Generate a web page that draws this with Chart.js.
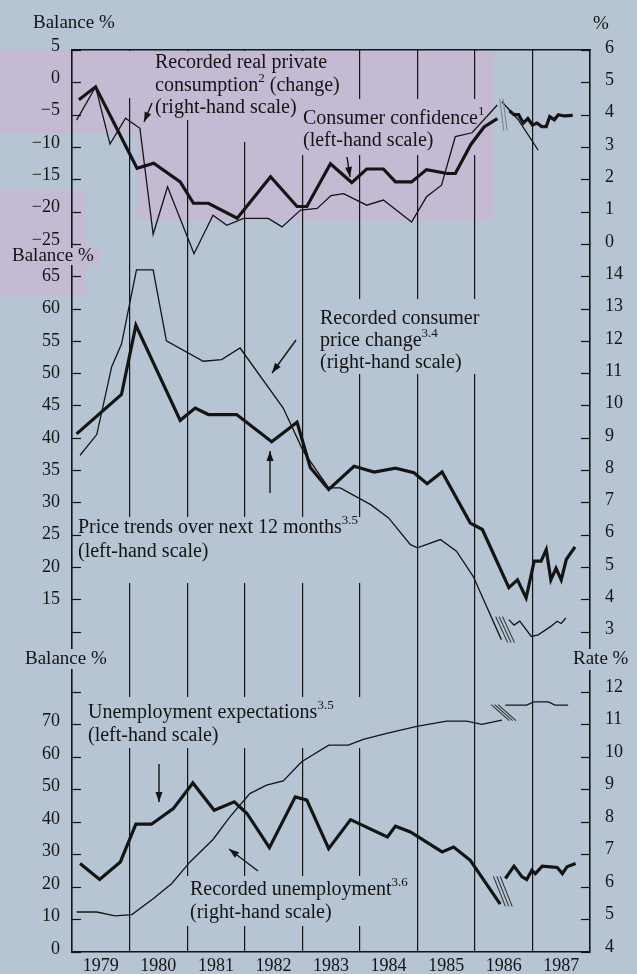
<!DOCTYPE html>
<html>
<head>
<meta charset="utf-8">
<script src="https://cdn.jsdelivr.net/npm/chart.js@4.4.1/dist/chart.umd.min.js"></script>
<style>
  html, body { margin: 0; padding: 0; background: #b7c4d3; }
  #wrap { width: 637px; height: 974px; }
</style>
</head>
<body>
<div id="wrap"><canvas id="chart" width="637" height="974"></canvas></div>
<script>
// x axis: year boundaries (labels sit in the middle of each year)
const years = [1979, 1980, 1981, 1982, 1983, 1984, 1985, 1986, 1987, 1988];

// tick values of each panel
const topLeftTicks = [5, 0, -5, -10, -15, -20, -25];
const topRightTicks = [0, 1, 2, 3, 4, 5, 6];
const midLeftTicks = [10, 15, 20, 25, 30, 35, 40, 45, 50, 55, 60, 65];
const midRightTicks = [3, 4, 5, 6, 7, 8, 9, 10, 11, 12, 13, 14];
const lowLeftTicks = [0, 10, 20, 30, 40, 50, 60, 70, 80];
const lowRightTicks = [4, 5, 6, 7, 8, 9, 10, 11, 12];

// top panel: consumer confidence, balance % (left scale)
const confDates = [1979.12, 1979.41, 1980.13, 1980.42, 1980.88, 1981.11, 1981.37, 1981.87, 1982.45, 1982.91, 1983.08, 1983.49, 1983.86, 1984.12, 1984.41, 1984.62, 1984.90, 1985.16, 1985.52, 1985.66, 1985.93, 1986.16, 1986.39];
const confValues = [-2.7, -0.7, -13.3, -12.5, -15.4, -18.7, -18.7, -21.0, -14.6, -19.2, -19.2, -12.6, -15.5, -13.4, -13.4, -15.4, -15.4, -13.5, -14.1, -14.1, -9.6, -6.9, -5.6];
const confDates2 = [1986.60, 1986.68, 1986.76, 1986.84, 1986.92, 1987.00, 1987.08, 1987.16, 1987.24, 1987.30, 1987.38, 1987.45, 1987.55, 1987.70];
const confValues2 = [-4.4, -5.0, -5.0, -6.3, -5.6, -6.6, -6.3, -6.85, -6.85, -5.3, -5.8, -5.0, -5.2, -5.1];

// top panel: recorded real private consumption, change % (right scale)
const consDates = [1979.08, 1979.41, 1979.66, 1979.93, 1980.18, 1980.41, 1980.66, 1981.12, 1981.45, 1981.69, 1981.98, 1982.41, 1982.65, 1982.97, 1983.26, 1983.50, 1983.72, 1984.12, 1984.41, 1984.90, 1985.16, 1985.42, 1985.66, 1985.95, 1986.39];
const consValues = [3.83, 4.86, 3.09, 3.89, 3.58, 0.3, 1.77, -0.3, 0.89, 0.58, 0.79, 0.79, 0.53, 1.05, 1.1, 1.5, 1.56, 1.2, 1.36, 0.68, 1.46, 1.82, 3.32, 3.44, 4.3];
const consDates2 = [1986.47, 1986.75, 1987.10];
const consValues2 = [4.4, 3.85, 2.9];

// middle panel: price trends over next 12 months, balance % (left scale)
const trendDates = [1979.08, 1979.86, 1980.11, 1980.88, 1981.14, 1981.37, 1981.86, 1982.47, 1982.91, 1983.14, 1983.46, 1983.90, 1984.25, 1984.62, 1984.94, 1985.17, 1985.43, 1985.92, 1986.13, 1986.35, 1986.59, 1986.74, 1986.89, 1987.03, 1987.15, 1987.24, 1987.32, 1987.41, 1987.50, 1987.59, 1987.74];
const trendValues = [40.6, 46.7, 57.4, 42.7, 44.6, 43.6, 43.6, 39.4, 42.4, 35.4, 32.0, 35.6, 34.7, 35.3, 34.6, 32.9, 34.7, 26.8, 25.8, 21.5, 16.8, 18.0, 15.2, 20.9, 20.9, 22.7, 18.0, 19.8, 18.0, 21.2, 23.1];

// middle panel: recorded consumer price change, % (right scale)
const cpiDates = [1979.14, 1979.43, 1979.69, 1979.86, 1980.12, 1980.41, 1980.64, 1981.28, 1981.60, 1981.92, 1982.67, 1983.02, 1983.46, 1983.66, 1984.19, 1984.50, 1984.88, 1985.00, 1985.40, 1985.68, 1985.97, 1986.46];
const cpiValues = [8.46, 9.1, 11.2, 11.9, 14.2, 14.2, 12.0, 11.37, 11.42, 11.78, 9.92, 8.58, 7.45, 7.45, 6.93, 6.52, 5.69, 5.59, 5.85, 5.49, 4.71, 2.75];
const cpiDates2 = [1986.59, 1986.68, 1986.78, 1986.98, 1987.10, 1987.32, 1987.43, 1987.50, 1987.58];
const cpiValues2 = [3.37, 3.2, 3.32, 2.85, 2.9, 3.16, 3.32, 3.25, 3.42];

// bottom panel: unemployment expectations, balance % (left scale)
const uexpDates = [1979.14, 1979.48, 1979.84, 1980.11, 1980.38, 1980.76, 1981.10, 1981.47, 1981.82, 1982.04, 1982.43, 1982.88, 1983.08, 1983.46, 1983.84, 1984.48, 1984.62, 1984.88, 1985.43, 1985.63, 1985.92, 1986.44];
const uexpValues = [27.2, 22.3, 27.7, 39.3, 39.3, 44.1, 52.0, 43.6, 46.2, 42.6, 32.1, 47.7, 46.7, 31.8, 40.7, 35.4, 38.7, 36.9, 30.8, 32.3, 28.2, 14.7];
const uexpDates2 = [1986.53, 1986.68, 1986.82, 1986.90, 1986.99, 1987.05, 1987.17, 1987.32, 1987.43, 1987.52, 1987.60, 1987.75];
const uexpValues2 = [22.6, 26.4, 23.1, 22.3, 25.1, 24.1, 26.4, 26.2, 26.0, 24.1, 26.2, 27.2];

// bottom panel: recorded unemployment, rate % (right scale)
const unempDates = [1979.08, 1979.43, 1979.75, 1980.04, 1980.41, 1980.73, 1981.05, 1981.45, 1981.74, 1982.09, 1982.38, 1982.67, 1982.99, 1983.46, 1983.80, 1984.06, 1984.47, 1984.99, 1985.51, 1985.86, 1986.12, 1986.47];
const unempValues = [5.23, 5.23, 5.11, 5.15, 5.64, 6.1, 6.77, 7.46, 8.15, 8.87, 9.13, 9.26, 9.85, 10.36, 10.36, 10.54, 10.72, 10.94, 11.1, 11.1, 11.0, 11.13];
const unempDates2 = [1986.53, 1986.90, 1987.02, 1987.28, 1987.39, 1987.62];
const unempValues2 = [11.59, 11.59, 11.69, 11.69, 11.59, 11.59];

const serif = '"Liberation Serif", "Times New Roman", serif';
const ink = '#141414';
const bg = '#b7c4d3';
const pink = '#c4bad3';

// lavender patches of the printed original
const pinkAreas = [[0, 50, 137, 83], [137, 50, 356, 170], [0, 190, 86, 105]];

// annotations: text lines, and background patches that break the year lines
const notes = [
  { x: 155, y: 63, lh: 22.5, lines: ['Recorded real private', 'consumption^2^ (change)', '(right-hand scale)'],
    masks: [[124, 51, 222, 47, pink], [180, 98, 130, 22, pink], [240, 120, 70, 22, pink]] },
  { x: 303, y: 119, lh: 22, lines: ['Consumer confidence^1^', '(left-hand scale)'],
    masks: [[298, 99, 186, 56, pink]] },
  { x: 320, y: 319, lh: 22, lines: ['Recorded consumer', 'price change^3.4^', '(right-hand scale)'],
    masks: [[318, 299, 166, 75, bg]] },
  { x: 78, y: 528, lh: 23.5, lines: ['Price trends over next 12 months^3.5^', '(left-hand scale)'],
    masks: [[76, 517, 296, 66, bg]] },
  { x: 88, y: 713, lh: 23, lines: ['Unemployment expectations^3.5^', '(left-hand scale)'],
    masks: [[86, 697, 278, 51, bg]] },
  { x: 190, y: 890, lh: 23, lines: ['Recorded unemployment^3.6^', '(right-hand scale)'],
    masks: [[187, 876, 228, 50, bg]] }
];
const arrows = [[152, 103, 144, 122], [347, 157, 350, 177], [296, 340, 272, 373], [270, 493, 270, 451], [159, 764, 159, 802], [258, 871, 229, 849]];
const titles = [
  { t: 'Balance %', x: 33, y: 23 },
  { t: '%', x: 593, y: 24 },
  { t: 'Balance %', x: 12, y: 256, mask: [10, 248, 90, 17, pink] },
  { t: 'Balance %', x: 25, y: 659, mask: [23, 649, 90, 20, bg] },
  { t: 'Rate %', x: 573, y: 659, mask: [571, 649, 66, 21, bg] }
];
// series breaks: dataset before / after, number of strokes, half size, colour
const breakMarks = [
  { pre: 0, post: 1, n: 2, hx: 2, hy: 16, color: '#7d8590' },
  { pre: 5, post: 6, n: 3, hx: 6, hy: 13, color: '#333' },
  { pre: 7, post: 8, n: 3, hx: 6, hy: 15, color: '#333' },
  { pre: 9, post: 10, n: 3, hx: 9, hy: 8, color: '#333' }
];

function pts(dates, values) {
  return dates.map((d, i) => ({ x: d, y: values[i] }));
}

function line(dates, values, axis, width) {
  return {
    data: pts(dates, values), yAxisID: axis, xAxisID: 'x', clip: false,
    borderColor: ink, borderWidth: width, pointRadius: 0, fill: false, tension: 0
  };
}

function fmt(v, blank) {
  if (blank.includes(v)) return '';
  return v < 0 ? '\u2212' + Math.abs(v) : String(v);
}

function yAxis(pos, min, max, ticks, weight, offset, blank) {
  return {
    type: 'linear', position: pos, stack: pos, stackWeight: weight, min: min, max: max,
    grid: { display: false },
    border: { color: ink, width: 1.5 },
    afterBuildTicks: s => { s.ticks = ticks.map(v => ({ value: v })); },
    afterFit: s => { s.width = pos === 'left' ? 72 : 47; },
    ticks: {
      autoSkip: false, padding: pos === 'left' ? 4 : 7, labelOffset: offset, color: ink,
      font: { family: serif, size: 18 },
      callback: v => fmt(v, blank || [])
    }
  };
}

function richText(ctx, str, x, y) {
  let cx = x;
  str.split('^').forEach((p, i) => {
    const sup = i % 2 === 1;
    ctx.font = (sup ? '13px ' : '20px ') + serif;
    ctx.fillText(p, cx, sup ? y - 7 : y);
    cx += ctx.measureText(p).width;
  });
}

function arrow(ctx, x1, y1, x2, y2) {
  ctx.beginPath();
  ctx.moveTo(x1, y1);
  ctx.lineTo(x2, y2);
  ctx.stroke();
  const a = Math.atan2(y2 - y1, x2 - x1), L = 10, W = 3.5;
  ctx.beginPath();
  ctx.moveTo(x2, y2);
  ctx.lineTo(x2 - L * Math.cos(a) + W * Math.sin(a), y2 - L * Math.sin(a) - W * Math.cos(a));
  ctx.lineTo(x2 - L * Math.cos(a) - W * Math.sin(a), y2 - L * Math.sin(a) + W * Math.cos(a));
  ctx.closePath();
  ctx.fill();
}

const deco = {
  id: 'deco',
  beforeDraw(chart) {
    const ctx = chart.ctx;
    ctx.save();
    ctx.fillStyle = bg;
    ctx.fillRect(0, 0, chart.width, chart.height);
    ctx.fillStyle = pink;
    pinkAreas.forEach(r => ctx.fillRect(r[0], r[1], r[2], r[3]));
    ctx.restore();
  },
  beforeDatasetsDraw(chart) {
    const ctx = chart.ctx;
    ctx.save();
    const masks = [];
    notes.forEach(n => n.masks.forEach(m => masks.push(m)));
    titles.forEach(t => { if (t.mask) masks.push(t.mask); });
    masks.forEach(m => { ctx.fillStyle = m[4]; ctx.fillRect(m[0], m[1], m[2], m[3]); });
    ctx.fillStyle = ink;
    ctx.textAlign = 'left';
    ctx.textBaseline = 'middle';
    notes.forEach(n => n.lines.forEach((l, i) => richText(ctx, l, n.x, n.y + i * n.lh)));
    ctx.font = '19px ' + serif;
    titles.forEach(t => ctx.fillText(t.t, t.x, t.y));
    ctx.restore();
  },
  afterDatasetsDraw(chart) {
    const ctx = chart.ctx, area = chart.chartArea;
    ctx.save();
    // tick marks pointing into the plot
    ctx.strokeStyle = ink;
    ctx.lineWidth = 1.2;
    Object.values(chart.scales).forEach(s => {
      if (s.axis !== 'y') return;
      s.ticks.forEach(t => {
        const py = Math.round(s.getPixelForValue(t.value)) + 0.5;
        ctx.beginPath();
        if (s.position === 'left') { ctx.moveTo(area.left, py); ctx.lineTo(area.left + 9, py); }
        else { ctx.moveTo(area.right - 9, py); ctx.lineTo(area.right, py); }
        ctx.stroke();
      });
    });
    // annotation arrows
    ctx.fillStyle = ink;
    ctx.lineWidth = 1.4;
    arrows.forEach(a => arrow(ctx, a[0], a[1], a[2], a[3]));
    // series break marks
    breakMarks.forEach(b => {
      const a = chart.getDatasetMeta(b.pre).data, c = chart.getDatasetMeta(b.post).data;
      const p = a[a.length - 1], q = c[0];
      const cx = (p.x + q.x) / 2, cy = (p.y + q.y) / 2;
      ctx.strokeStyle = b.color;
      ctx.lineWidth = 1.1;
      for (let k = 0; k < b.n; k++) {
        const o = (k - (b.n - 1) / 2) * 3.4;
        ctx.beginPath();
        ctx.moveTo(cx + o - b.hx, cy - b.hy);
        ctx.lineTo(cx + o + b.hx, cy + b.hy);
        ctx.stroke();
      }
    });
    ctx.restore();
  }
};

// panel heights: 30 left units * 6.47px, 64 * 6.46px, 90.6 * 3.25px
const wTop = 194, wMid = 413.4, wLow = 294.6;

new Chart(document.getElementById('chart'), {
  type: 'line',
  data: {
    datasets: [
      line(confDates, confValues, 'yTop', 3.2),
      line(confDates2, confValues2, 'yTop', 3.2),
      line(consDates, consValues, 'rTop', 1.3),
      line(consDates2, consValues2, 'rTop', 1.3),
      line(trendDates, trendValues, 'yMid', 3.2),
      line(cpiDates, cpiValues, 'rMid', 1.3),
      line(cpiDates2, cpiValues2, 'rMid', 1.3),
      line(uexpDates, uexpValues, 'yLow', 3.2),
      line(uexpDates2, uexpValues2, 'yLow', 3.2),
      line(unempDates, unempValues, 'rLow', 1.3),
      line(unempDates2, unempValues2, 'rLow', 1.3)
    ]
  },
  options: {
    responsive: false,
    animation: false,
    layout: { padding: { top: 38, bottom: 0, left: 0, right: 0 } },
    plugins: { legend: { display: false }, tooltip: { enabled: false } },
    scales: {
      x: {
        type: 'linear', position: 'bottom', min: 1979, max: 1988,
        afterBuildTicks: s => { s.ticks = years.map(v => ({ value: v })); },
        afterFit: s => { s.height = 22; },
        grid: { color: ink, lineWidth: 1.2, drawTicks: false },
        border: { color: ink, width: 1.5 },
        ticks: {
          autoSkip: false, maxRotation: 0, padding: 3, labelOffset: 28.8, color: ink,
          font: { family: serif, size: 18 },
          callback: v => v === 1988 ? '' : String(v)
        }
      },
      xTop: {
        type: 'linear', position: 'top', min: 1979, max: 1988,
        afterFit: s => { s.height = 12; },
        grid: { display: false },
        border: { color: ink, width: 1.5 },
        ticks: { display: false }
      },
      // left-hand stack is laid out in reverse order: the last one sits on top
      yLow: yAxis('left', 0, 90.6, lowLeftTicks, wLow, -3, [80]),
      yMid: yAxis('left', 6, 70, midLeftTicks, wMid, 0, [10]),
      yTop: yAxis('left', -25, 5, topLeftTicks, wTop, -4),
      rTop: yAxis('right', 0, 6, topRightTicks, wTop, -2),
      rMid: yAxis('right', 2.2, 15, midRightTicks, wMid, -2),
      rLow: yAxis('right', 4, 13.06, lowRightTicks, wLow, -5)
    }
  },
  plugins: [deco]
});
</script>
</body>
</html>
